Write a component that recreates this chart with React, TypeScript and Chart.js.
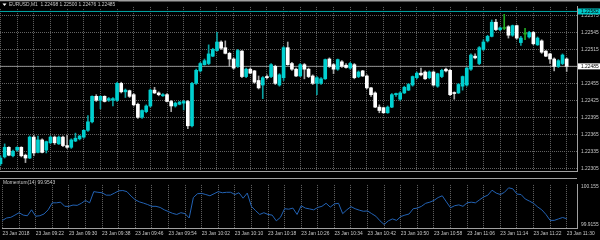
import React, { useEffect, useRef } from "react";
import { Chart, registerables } from "chart.js";

Chart.register(...registerables);

// ---------- data ----------
const symbol = "EURUSD,M1";
const barsPerLabel = 8;
const barsPerGrid = 4;
const xTickLabels = [
  "23 Jan 2018", "23 Jan 09:22", "23 Jan 09:30", "23 Jan 09:38", "23 Jan 09:46", "23 Jan 09:54",
  "23 Jan 10:02", "23 Jan 10:10", "23 Jan 10:18", "23 Jan 10:26", "23 Jan 10:34", "23 Jan 10:42",
  "23 Jan 10:50", "23 Jan 10:58", "23 Jan 11:06", "23 Jan 11:14", "23 Jan 11:22", "23 Jan 11:30",
];
const priceTicks = [1.22575, 1.22545, 1.22515, 1.22485, 1.22455, 1.22425, 1.22395, 1.22365, 1.22335, 1.22305];
const momTickValues = [100.155, 99.9155];
const momTickLabels = ["100.155", "99.9155"];
const alertLevel = 1.22582;

const open = [
  1.22313, 1.22325, 1.22342, 1.22327, 1.22337, 1.22342, 1.22328, 1.22323, 1.2236, 1.22333,
  1.22355, 1.22337, 1.2235, 1.2236, 1.22348, 1.2236, 1.22345, 1.22342, 1.22353, 1.22357,
  1.2236, 1.22372, 1.22387, 1.22432, 1.22425, 1.22432, 1.22425, 1.22425, 1.22425, 1.22455,
  1.2244, 1.22442, 1.22435, 1.22418, 1.22395, 1.22405, 1.22415, 1.22443, 1.22438, 1.22433,
  1.22435, 1.22423, 1.22415, 1.22418, 1.2242, 1.22423, 1.2238, 1.22455, 1.22477, 1.22488,
  1.2249, 1.22503, 1.22513, 1.22528, 1.22518, 1.22508, 1.22498, 1.22485, 1.22512, 1.22467,
  1.2248, 1.22477, 1.2246, 1.22452, 1.22467, 1.22467, 1.22485, 1.22452, 1.22465, 1.22518,
  1.2249, 1.2248, 1.22468, 1.22488, 1.2248, 1.22468, 1.22455, 1.22455, 1.22463, 1.22498,
  1.22488, 1.2248, 1.22493, 1.22487, 1.22482, 1.22488, 1.22467, 1.22477, 1.22468, 1.22447,
  1.22438, 1.22413, 1.22412, 1.22403, 1.22413, 1.22435, 1.22427, 1.22438, 1.22443, 1.22452,
  1.22465, 1.22473, 1.22475, 1.22465, 1.22475, 1.2245, 1.22467, 1.2248, 1.22478, 1.22438,
  1.22438, 1.2245, 1.22452, 1.2248, 1.22503, 1.2249, 1.22515, 1.2253, 1.22538, 1.22563,
  1.2255, 1.22552, 1.22555, 1.2254, 1.22557, 1.22527, 1.22542, 1.22537, 1.22545, 1.22523,
  1.2253, 1.22512, 1.22507, 1.22498, 1.22485, 1.2249, 1.22498,
];
const high = [
  1.22327, 1.22348, 1.22343, 1.22337, 1.22343, 1.22343, 1.2233, 1.22362, 1.22363, 1.22362,
  1.22357, 1.22353, 1.22362, 1.22362, 1.22362, 1.22362, 1.22363, 1.22357, 1.22367, 1.22363,
  1.22373, 1.22398, 1.22433, 1.22435, 1.22433, 1.22433, 1.2243, 1.2243, 1.22457, 1.22457,
  1.22445, 1.22443, 1.22437, 1.2242, 1.22408, 1.22417, 1.22445, 1.22448, 1.2244, 1.22437,
  1.22437, 1.22425, 1.22422, 1.22423, 1.22425, 1.22425, 1.22457, 1.2248, 1.22492, 1.22498,
  1.22523, 1.22517, 1.22545, 1.2253, 1.2253, 1.2251, 1.225, 1.22515, 1.22513, 1.22482,
  1.22482, 1.22478, 1.22468, 1.22467, 1.2247, 1.2249, 1.22487, 1.22472, 1.2252, 1.22528,
  1.22492, 1.22482, 1.2249, 1.2249, 1.22482, 1.2247, 1.22467, 1.22465, 1.22498, 1.225,
  1.2249, 1.22498, 1.22495, 1.2249, 1.22492, 1.2249, 1.22477, 1.22478, 1.2247, 1.22448,
  1.2244, 1.22417, 1.22413, 1.22415, 1.22437, 1.22438, 1.2244, 1.2245, 1.22455, 1.22468,
  1.22475, 1.22482, 1.22477, 1.22477, 1.22477, 1.22473, 1.2248, 1.22482, 1.2248, 1.2244,
  1.22455, 1.22468, 1.22483, 1.22507, 1.22507, 1.2252, 1.22532, 1.2254, 1.22567, 1.22568,
  1.22555, 1.22577, 1.22557, 1.22558, 1.22558, 1.22538, 1.22552, 1.22547, 1.22547, 1.22537,
  1.22532, 1.22513, 1.22508, 1.225, 1.22497, 1.22507, 1.225,
];
const low = [
  1.2231, 1.22323, 1.22327, 1.22325, 1.22335, 1.22325, 1.22315, 1.22322, 1.22327, 1.22332,
  1.22332, 1.22332, 1.22348, 1.22347, 1.22347, 1.22343, 1.2234, 1.2234, 1.22352, 1.22355,
  1.22358, 1.2237, 1.22385, 1.22423, 1.2241, 1.22422, 1.22423, 1.22415, 1.22423, 1.22438,
  1.2243, 1.2243, 1.22415, 1.22393, 1.22393, 1.22403, 1.22413, 1.22437, 1.22433, 1.22432,
  1.22422, 1.22405, 1.22413, 1.22417, 1.22408, 1.22375, 1.22378, 1.22453, 1.22475, 1.22487,
  1.22488, 1.22502, 1.22512, 1.22515, 1.22507, 1.22485, 1.2248, 1.22483, 1.22465, 1.22465,
  1.22472, 1.22455, 1.22445, 1.22428, 1.22463, 1.22465, 1.22453, 1.2245, 1.2246, 1.22487,
  1.22478, 1.22467, 1.22467, 1.22463, 1.22465, 1.22453, 1.22435, 1.22453, 1.22462, 1.22483,
  1.22472, 1.22478, 1.22483, 1.22482, 1.2248, 1.22463, 1.22465, 1.22467, 1.22445, 1.22432,
  1.22412, 1.22403, 1.22402, 1.22402, 1.22412, 1.22432, 1.22425, 1.22437, 1.22442, 1.2245,
  1.22463, 1.22468, 1.22462, 1.22463, 1.2245, 1.22448, 1.22465, 1.22475, 1.22433, 1.22427,
  1.22437, 1.22443, 1.2245, 1.22478, 1.22498, 1.22488, 1.22513, 1.22528, 1.22537, 1.22548,
  1.22548, 1.2255, 1.22535, 1.22538, 1.22533, 1.22522, 1.22532, 1.22535, 1.22523, 1.22522,
  1.22508, 1.22502, 1.2249, 1.22477, 1.22483, 1.22488, 1.22476,
];
const close = [
  1.22323, 1.22342, 1.22328, 1.22335, 1.22342, 1.22327, 1.22323, 1.2236, 1.22332, 1.22355,
  1.22333, 1.22352, 1.2236, 1.2235, 1.2236, 1.22345, 1.22342, 1.22355, 1.22358, 1.22362,
  1.22372, 1.22387, 1.22432, 1.22425, 1.22432, 1.22423, 1.22428, 1.22428, 1.22455, 1.2244,
  1.22443, 1.22432, 1.22417, 1.22395, 1.22407, 1.22415, 1.22443, 1.22438, 1.22435, 1.22435,
  1.22423, 1.22415, 1.2242, 1.22422, 1.22423, 1.2238, 1.22455, 1.22478, 1.2249, 1.22495,
  1.22507, 1.22515, 1.22528, 1.22517, 1.22508, 1.22498, 1.22482, 1.22513, 1.22467, 1.2248,
  1.22473, 1.22457, 1.22447, 1.22465, 1.22465, 1.22488, 1.22455, 1.2247, 1.22518, 1.22488,
  1.2248, 1.22468, 1.22488, 1.2248, 1.22467, 1.22455, 1.22465, 1.22463, 1.22497, 1.22485,
  1.2248, 1.22497, 1.22485, 1.22483, 1.2249, 1.22465, 1.22475, 1.22468, 1.22447, 1.22435,
  1.22413, 1.22407, 1.22403, 1.22413, 1.22435, 1.22437, 1.22438, 1.22448, 1.22453, 1.22467,
  1.22473, 1.2247, 1.22463, 1.22475, 1.22452, 1.22472, 1.22478, 1.22477, 1.22435, 1.22437,
  1.22453, 1.22467, 1.22482, 1.22505, 1.225, 1.22518, 1.22528, 1.22538, 1.22563, 1.2255,
  1.22553, 1.22552, 1.2254, 1.22557, 1.22535, 1.22535, 1.22542, 1.22545, 1.22525, 1.22535,
  1.2251, 1.22503, 1.22498, 1.22485, 1.22495, 1.22505, 1.22485,
];
const momentum = [
  99.944, 99.959, 99.963, 99.977, 99.992, 99.977, 99.973, 100.01, 99.97, 99.973,
  99.984, 100.01, 100.054, 100.054, 100.058, 100.032, 100.032, 100.04, 100.038, 100.051,
  100.069, 100.054, 100.124, 100.12, 100.117, 100.102, 100.102, 100.115, 100.129, 100.131,
  100.124, 100.096, 100.073, 100.06, 100.052, 100.043, 100.032, 100.032, 100.025, 100.01,
  99.999, 99.988, 99.981, 99.992, 99.986, 99.959, 100.087, 100.111, 100.113, 100.106,
  100.098, 100.111, 100.124, 100.117, 100.12, 100.12, 100.106, 100.117, 100.083, 100.115,
  100.032, 100.005, 99.981, 99.992, 99.981, 99.977, 99.941, 99.963, 100.017, 100.014,
  100.021, 99.981, 100.036, 100.021, 100.016, 100.01, 100.025, 100.032, 100.051, 100.027,
  100.047, 100.051, 99.986, 100.01, 100.03, 100.017, 100.008, 100.001, 100.003, 99.986,
  99.97, 99.941, 99.918, 99.941, 99.953, 99.944, 99.968, 99.977, 99.984, 100.017,
  100.021, 100.032, 100.051, 100.058, 100.069, 100.087, 100.098, 100.06, 100.023, 100.036,
  100.041, 100.032, 100.054, 100.058, 100.054, 100.073, 100.091, 100.102, 100.133, 100.115,
  100.106, 100.12, 100.148, 100.142, 100.109, 100.106, 100.078, 100.065, 100.051, 100.028,
  100.01, 99.981, 99.944, 99.944, 99.953, 99.962, 99.9543,
];

// ---------- layout / style ----------
const X_MIN = -0.12;
const X_MAX = 138.48;
const PRICE_MIN = 1.223;
const PRICE_MAX = 1.2259;
const MOM_MIN = 99.8962;
const MOM_MAX = 100.166;
const AXIS_W = 23;
const FONT_FAMILY = '"Liberation Sans", Arial, sans-serif';
const FONT_SIZE = 4.9;
const TEXT = "#c8c8c8";
const GRID = "#626262";
const FRAME = "#a0a0a0";
const BULL = "#00d0d0";
const BULL_WICK = "#0aa0a0";
const BEAR = "#ffffff";
const BEAR_WICK = "#a8a8a8";
const DOJI = "#22aa22";
const MOM_LINE = "#2262b4";

const N = close.length;
const idx = close.map((_, i) => i);
const gridBars = idx.filter((i) => i % barsPerGrid === 0);
const kind = (i: number) => (close[i] > open[i] ? 1 : close[i] < open[i] ? -1 : 0);
const bodyColors = idx.map((i) => (kind(i) > 0 ? BULL : kind(i) < 0 ? BEAR : DOJI));
const wickColors = idx.map((i) => (kind(i) > 0 ? BULL_WICK : kind(i) < 0 ? BEAR_WICK : DOJI));

const font = { family: FONT_FAMILY, size: FONT_SIZE };
const fontStr = `${FONT_SIZE}px ${FONT_FAMILY}`;

const topOverlay = {
  id: "topOverlay",
  afterDraw(chart: any) {
    const { ctx } = chart;
    const y = chart.scales.y;
    ctx.save();
    ctx.fillStyle = FRAME;
    ctx.fillRect(0, 0, 600, 1.5);
    // title
    const title = `${symbol}  ${open[N - 1].toFixed(5)} ${high[N - 1].toFixed(5)} ${low[N - 1].toFixed(5)} ${close[N - 1].toFixed(5)}`;
    ctx.font = fontStr;
    const w = ctx.measureText(title).width;
    ctx.fillStyle = "#000";
    ctx.fillRect(0, 1.5, w + 12, 7);
    ctx.fillStyle = "#ffffff";
    ctx.beginPath();
    ctx.moveTo(2.5, 3.5);
    ctx.lineTo(6.5, 3.5);
    ctx.lineTo(4.5, 6);
    ctx.closePath();
    ctx.fill();
    ctx.fillStyle = TEXT;
    ctx.textBaseline = "middle";
    ctx.textAlign = "left";
    ctx.fillText(title, 9, 5);
    // price tags
    const tag = (v: number, bg: string, fg: string, txt: string) => {
      const py = y.getPixelForValue(v);
      ctx.fillStyle = bg;
      ctx.fillRect(578, py - 3, 22, 6);
      ctx.fillStyle = fg;
      ctx.fillText(txt, 581, py + 0.3);
    };
    tag(alertLevel, "#00c8c8", "#000000", alertLevel.toFixed(5));
    tag(close[N - 1], "#ffffff", "#000000", close[N - 1].toFixed(5));
    ctx.restore();
  },
};

const botOverlay = {
  id: "botOverlay",
  afterDraw(chart: any) {
    const { ctx, chartArea } = chart;
    ctx.save();
    ctx.fillStyle = FRAME;
    ctx.fillRect(0, 0, chartArea.right, 1);
    ctx.font = fontStr;
    ctx.fillStyle = TEXT;
    ctx.textBaseline = "middle";
    ctx.textAlign = "left";
    ctx.fillText(`Momentum(14) ${momentum[N - 1].toFixed(4)}`, 3, 5);
    ctx.restore();
  },
};

export default function App() {
  const topRef = useRef<HTMLCanvasElement>(null);
  const botRef = useRef<HTMLCanvasElement>(null);

  useEffect(() => {
    const top = new Chart(topRef.current as HTMLCanvasElement, {
      type: "bar",
      data: {
        datasets: [
          {
            type: "line",
            data: [{ x: X_MIN, y: close[N - 1] }, { x: X_MAX, y: close[N - 1] }],
            borderColor: "#8c8c8c",
            borderWidth: 1,
            pointRadius: 0,
            order: 4,
          } as any,
          {
            type: "line",
            data: [{ x: X_MIN, y: alertLevel }, { x: X_MAX, y: alertLevel }],
            borderColor: "#00a8a8",
            borderWidth: 1,
            pointRadius: 0,
            order: 3,
          } as any,
          {
            type: "bar",
            data: idx.map((i) => ({ x: i, y: [low[i], high[i]] })),
            backgroundColor: wickColors,
            barThickness: 1,
            grouped: false,
            order: 2,
          } as any,
          {
            type: "bar",
            data: idx.map((i) => ({ x: i, y: [open[i], close[i]] })),
            backgroundColor: bodyColors,
            barThickness: 3,
            minBarLength: 1,
            grouped: false,
            order: 1,
          } as any,
        ],
      },
      options: {
        animation: false,
        responsive: false,
        maintainAspectRatio: false,
        devicePixelRatio: 1,
        events: [],
        layout: { padding: { top: 2, bottom: 2, left: 0, right: 0 }, autoPadding: false } as any,
        plugins: { legend: { display: false }, tooltip: { enabled: false } },
        scales: {
          x: {
            type: "linear",
            min: X_MIN,
            max: X_MAX,
            offset: false,
            afterBuildTicks: (s: any) => {
              s.ticks = gridBars.map((v) => ({ value: v }));
            },
            afterFit: (s: any) => {
              s.height = 0;
            },
            ticks: { display: false },
            grid: { color: GRID, lineWidth: 1, drawTicks: false, offset: false },
            border: { display: true, color: FRAME, width: 1, dash: [1, 1] },
          } as any,
          y: {
            type: "linear",
            position: "right",
            min: PRICE_MIN,
            max: PRICE_MAX,
            beginAtZero: false,
            afterBuildTicks: (s: any) => {
              s.ticks = priceTicks.map((v) => ({ value: v }));
            },
            afterFit: (s: any) => {
              s.width = AXIS_W;
            },
            ticks: {
              color: TEXT,
              font,
              padding: 4,
              callback: (v: any) => Number(v).toFixed(5),
            },
            grid: { color: GRID, lineWidth: 1, drawTicks: false },
            border: { display: true, color: FRAME, width: 1, dash: [1, 1] },
          } as any,
        },
      },
      plugins: [topOverlay],
    });

    const bot = new Chart(botRef.current as HTMLCanvasElement, {
      type: "line",
      data: {
        datasets: [
          {
            data: idx.map((i) => ({ x: i, y: momentum[i] })),
            borderColor: MOM_LINE,
            borderWidth: 1,
            pointRadius: 0,
            tension: 0,
          },
        ],
      },
      options: {
        animation: false,
        responsive: false,
        maintainAspectRatio: false,
        devicePixelRatio: 1,
        events: [],
        layout: { padding: { top: 1, bottom: 0, left: 0, right: 0 }, autoPadding: false } as any,
        plugins: { legend: { display: false }, tooltip: { enabled: false } },
        scales: {
          x: {
            type: "linear",
            min: X_MIN,
            max: X_MAX,
            offset: false,
            afterBuildTicks: (s: any) => {
              s.ticks = gridBars.map((v) => ({ value: v }));
            },
            afterFit: (s: any) => {
              s.height = 12;
            },
            ticks: {
              display: true,
              autoSkip: false,
              maxRotation: 0,
              minRotation: 0,
              align: "start",
              padding: 2.5,
              color: TEXT,
              font,
              callback: (v: any) => {
                const k = Math.round(Number(v));
                return k % barsPerLabel === 0 ? xTickLabels[k / barsPerLabel] ?? "" : "";
              },
            },
            grid: { color: GRID, lineWidth: 1, drawTicks: false, offset: false },
            border: { display: true, color: FRAME, width: 1, dash: [1, 1] },
          } as any,
          y: {
            type: "linear",
            position: "right",
            min: MOM_MIN,
            max: MOM_MAX,
            afterBuildTicks: (s: any) => {
              s.ticks = momTickValues.map((v) => ({ value: v }));
            },
            afterFit: (s: any) => {
              s.width = AXIS_W;
            },
            ticks: {
              color: TEXT,
              font,
              padding: 4,
              callback: (v: any) => {
                const j = momTickValues.findIndex((m) => Math.abs(m - Number(v)) < 1e-6);
                return j >= 0 ? momTickLabels[j] : "";
              },
            },
            grid: { display: false, drawTicks: false },
            border: { display: true, color: FRAME, width: 1 },
          } as any,
        },
      },
      plugins: [botOverlay],
    });

    return () => {
      top.destroy();
      bot.destroy();
    };
  }, []);

  return (
    <div style={{ position: "fixed", left: 0, top: 0, width: 600, height: 240, background: "#000", overflow: "hidden" }}>
      <canvas ref={topRef} width={600} height={178} style={{ position: "absolute", left: 0, top: 0, width: 600, height: 178 }} />
      <canvas ref={botRef} width={600} height={62} style={{ position: "absolute", left: 0, top: 178, width: 600, height: 62 }} />
    </div>
  );
}
